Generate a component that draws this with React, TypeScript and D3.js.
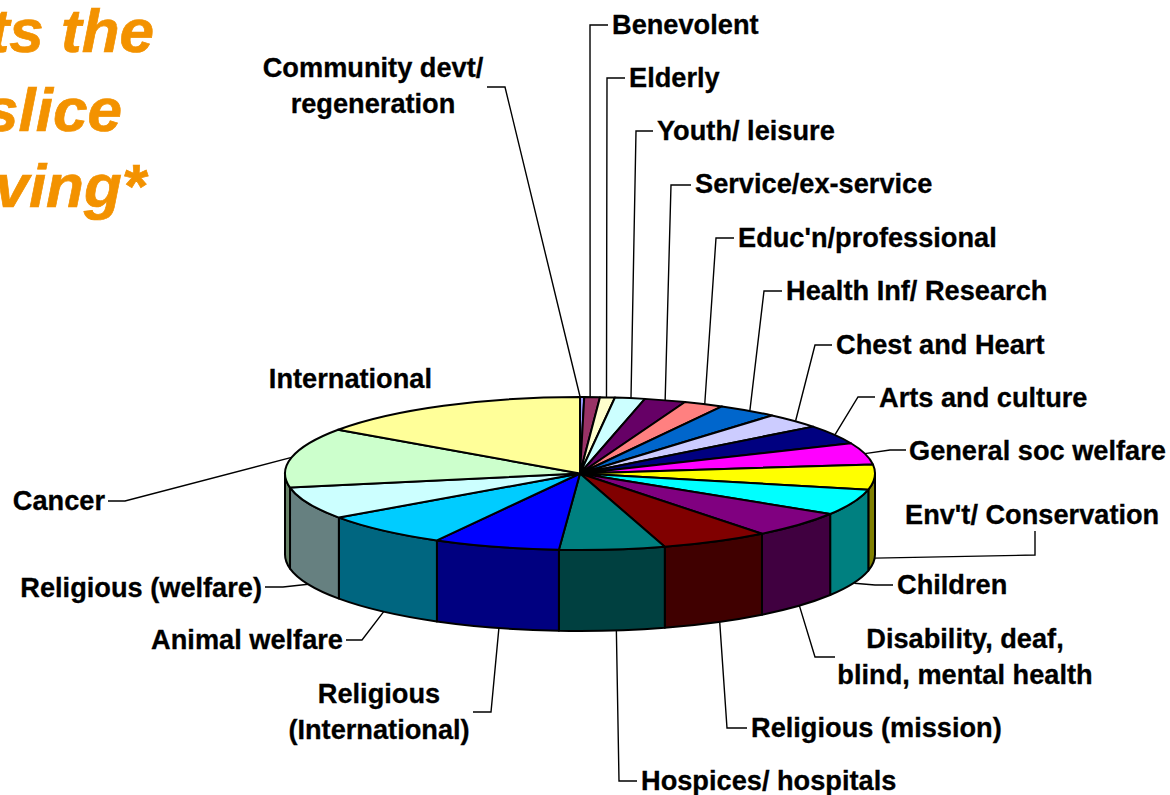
import React from "react";
import * as d3 from "d3";

// Share of voluntary giving by cause, clockwise from twelve o'clock.
const causes = [
  "Community devt", "Benevolent", "Elderly", "Youth/ leisure", "Service/ex-service",
  "Educ'n/professional", "Health Inf/ Research", "Chest and Heart", "Arts and culture",
  "General soc welfare", "Env't/ Conservation", "Children", "Disability",
  "Religious (mission)", "Hospices/ hospitals", "Religious (International)",
  "Animal welfare", "Religious (welfare)", "Cancer", "International",
];
const shares = [
  0.23, 0.85, 0.81, 1.64, 2.26, 2.2, 3.29, 3.22, 4.03, 4.58,
  5.28, 5.5, 5.53, 5.94, 5.78, 6.92, 7.17, 6.83, 12.64, 15.3,
];
const sliceColors = [
  "#9999ff", "#993366", "#ffffcc", "#ccffff", "#660066", "#ff8080", "#0066cc",
  "#ccccff", "#000080", "#ff00ff", "#ffff00", "#00ffff", "#800080", "#800000",
  "#008080", "#0000ff", "#00ccff", "#ccffff", "#ccffcc", "#ffff99",
];
const headingLines = ["ts the", "slice", "ving*"];

// Label text, anchor and leader route for each cause, in the same order as `causes`.
// `nudge` shifts where the leader leaves the pie, relative to the wedge's middle.
type Place = {
  lines: string[];
  x: number;
  y: number;
  anchor: string;
  route: [number, number][];
  nudge: number;
};
const places: Place[] = [
  { lines: ["Community devt/", "regeneration"], x: 373, y: 77, anchor: "middle", route: [[505, 87], [487, 87]], nudge: -2 },
  { lines: ["Benevolent"], x: 612, y: 34, anchor: "start", route: [[590, 25], [608, 25]], nudge: -2 },
  { lines: ["Elderly"], x: 629, y: 87, anchor: "start", route: [[607, 78], [625, 78]], nudge: -1 },
  { lines: ["Youth/ leisure"], x: 657, y: 140, anchor: "start", route: [[636, 131], [653, 131]], nudge: 1 },
  { lines: ["Service/ex-service"], x: 695, y: 193, anchor: "start", route: [[671, 185], [691, 185]], nudge: 0 },
  { lines: ["Educ'n/professional"], x: 738, y: 247, anchor: "start", route: [[716, 238], [734, 238]], nudge: 1 },
  { lines: ["Health Inf/ Research"], x: 786, y: 300, anchor: "start", route: [[764, 291], [782, 291]], nudge: 2 },
  { lines: ["Chest and Heart"], x: 836, y: 354, anchor: "start", route: [[815, 345], [832, 345]], nudge: 2 },
  { lines: ["Arts and culture"], x: 879, y: 407, anchor: "start", route: [[858, 397], [875, 397]], nudge: 1 },
  { lines: ["General soc welfare"], x: 909, y: 460, anchor: "start", route: [[890, 450], [906, 450]], nudge: 0 },
  { lines: ["Env't/ Conservation"], x: 905, y: 524, anchor: "start", route: [[1035, 555], [1035, 531]], nudge: 0 },
  { lines: ["Children"], x: 897, y: 594, anchor: "start", route: [[875, 585], [893, 585]], nudge: 1 },
  { lines: ["Disability, deaf,", "blind, mental health"], x: 965, y: 648, anchor: "middle", route: [[815, 657], [835, 657]], nudge: 0 },
  { lines: ["Religious (mission)"], x: 751, y: 737, anchor: "start", route: [[727, 728], [747, 728]], nudge: 4 },
  { lines: ["Hospices/ hospitals"], x: 641, y: 790, anchor: "start", route: [[619, 781], [637, 781]], nudge: 4 },
  { lines: ["Religious", "(International)"], x: 379, y: 703, anchor: "middle", route: [[491, 712], [473, 712]], nudge: 3 },
  { lines: ["Animal welfare"], x: 343, y: 649, anchor: "end", route: [[362, 640], [346, 640]], nudge: 1 },
  { lines: ["Religious (welfare)"], x: 262, y: 597, anchor: "end", route: [[283, 587], [265, 587]], nudge: 0 },
  { lines: ["Cancer"], x: 105, y: 510, anchor: "end", route: [[125, 501], [108, 501]], nudge: 0 },
  { lines: ["International"], x: 432, y: 388, anchor: "end", route: [], nudge: 0 },
];

const WIDTH = 1170;
const HEIGHT = 795;
const CX = 580;
const CY = 473.5;
const RX = 295;
const RY = 76.5;
const DEPTH = 81;
const LABEL_LINE = 36;

const wedges = d3.pie<number>().sort(null).value((d) => d)(shares);
const topArc = d3.arc<d3.PieArcDatum<number>>().innerRadius(0).outerRadius(RX);

const rim = (angle: number, drop = 0): [number, number] => [
  CX + RX * Math.sin(angle),
  CY - RY * Math.cos(angle) + drop,
];

// Front-facing wall between two rim angles; empty when the wedge sits at the back.
function wallPath(a0: number, a1: number): string | null {
  const from = Math.max(a0, Math.PI / 2);
  const to = Math.min(a1, (3 * Math.PI) / 2);
  if (to <= from) return null;
  const [x0, y0] = rim(from);
  const [x1, y1] = rim(to);
  return (
    `M${x0},${y0}A${RX},${RY} 0 0 1 ${x1},${y1}` +
    `L${x1},${y1 + DEPTH}A${RX},${RY} 0 0 0 ${x0},${y0 + DEPTH}Z`
  );
}

const shade = (hex: string): string => {
  const c = d3.rgb(hex);
  return d3.rgb(c.r / 2, c.g / 2, c.b / 2).formatHex();
};

// Leaders start at the middle of the wedge: on the wall's lower edge for front wedges.
function leaderPoints(i: number): [number, number][] {
  const w = wedges[i];
  const mid = (w.startAngle + w.endAngle) / 2;
  const front = mid > Math.PI / 2 && mid < (3 * Math.PI) / 2;
  const [x, y] = rim(mid, front ? DEPTH : 0);
  return [[x + places[i].nudge, y], ...places[i].route];
}

const leaderLine = d3.line();

export default function App() {
  return (
    <svg
      width={WIDTH}
      height={HEIGHT}
      viewBox={`0 0 ${WIDTH} ${HEIGHT}`}
      style={{ position: "absolute", left: 0, top: 0, display: "block", background: "#fff" }}
      fontFamily="'Liberation Sans', Arial, sans-serif"
    >
      <g
        fontSize={62}
        fontWeight="bold"
        fontStyle="italic"
        fill="#f39200"
        stroke="#f39200"
        strokeWidth={0.7}
        textAnchor="end"
      >
        {headingLines.map((line, i) => (
          <text key={line} x={[154, 122, 146][i]} y={[52, 131, 207][i]}>
            {line}
          </text>
        ))}
      </g>

      <g fill="none" stroke="#000" strokeWidth={1.4}>
        {places.map((p, i) =>
          p.route.length ? <path key={causes[i]} d={leaderLine(leaderPoints(i)) ?? ""} /> : null
        )}
      </g>

      <g stroke="#000" strokeWidth={2} strokeLinejoin="round">
        {wedges.map((w, i) => {
          const d = wallPath(w.startAngle, w.endAngle);
          return d ? <path key={causes[i]} d={d} fill={shade(sliceColors[i])} /> : null;
        })}
      </g>

      <g
        transform={`translate(${CX},${CY}) scale(1,${RY / RX})`}
        stroke="#000"
        strokeWidth={2}
        strokeLinejoin="round"
      >
        {wedges.map((w, i) => (
          <path
            key={causes[i]}
            d={topArc(w) ?? ""}
            fill={sliceColors[i]}
            vectorEffect="non-scaling-stroke"
          />
        ))}
      </g>

      <g fontSize={27.2} fontWeight="bold" fill="#000" stroke="#000" strokeWidth={0.3}>
        {places.map((p, i) => (
          <text key={causes[i]} x={p.x} y={p.y} textAnchor={p.anchor}>
            {p.lines.map((line, j) => (
              <tspan key={line} x={p.x} y={p.y + j * LABEL_LINE}>
                {line}
              </tspan>
            ))}
          </text>
        ))}
      </g>
    </svg>
  );
}
